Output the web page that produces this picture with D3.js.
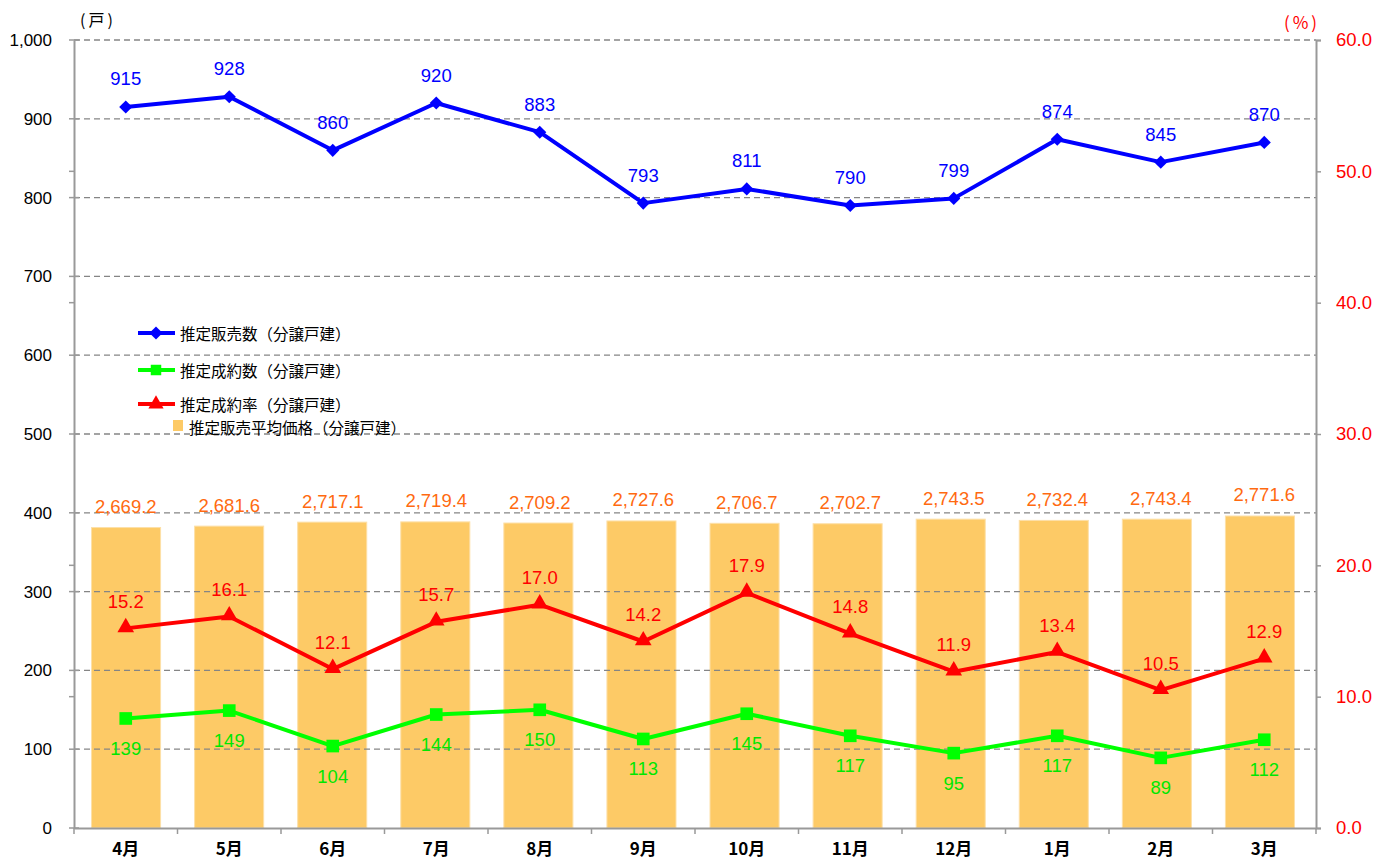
<!DOCTYPE html>
<html><head><meta charset="utf-8">
<script src="https://cdn.jsdelivr.net/npm/d3@7"></script>
<style>
html,body{margin:0;padding:0;background:#fff;}
svg{display:block;}
</style></head>
<body>
<svg id="chart" width="1373" height="864"></svg>
<script>
const months = ["4月","5月","6月","7月","8月","9月","10月","11月","12月","1月","2月","3月"];
const sales = [915,928,860,920,883,793,811,790,799,874,845,870];
const contracts = [139,149,104,144,150,113,145,117,95,117,89,112];
const rate = [15.2,16.1,12.1,15.7,17.0,14.2,17.9,14.8,11.9,13.4,10.5,12.9];
const price = [2669.2,2681.6,2717.1,2719.4,2709.2,2727.6,2706.7,2702.7,2743.5,2732.4,2743.4,2771.6];
const leftTicks = [0,100,200,300,400,500,600,700,800,900,1000];
const rightTicks = [0,10,20,30,40,50,60];
const legendLabels = ["推定販売数（分譲戸建）","推定成約数（分譲戸建）","推定成約率（分譲戸建）","推定販売平均価格（分譲戸建）"];

const svg = d3.select("#chart");
const L = 74, R = 1316, T = 40, B = 828;
const numFont = "'Liberation Sans', Arial, sans-serif";
const jpFont = "'Noto Sans CJK JP', sans-serif";

const x = d3.scaleBand().domain(months).range([L, R]).paddingInner(0.33).paddingOuter(0.165);
const xc = d => x(d) + x.bandwidth()/2;
const xBar = d3.scaleBand().domain(months).range([L, R - 4]).paddingInner(0.33).paddingOuter(0.17);
const yL = d3.scaleLinear().domain([0,1000]).range([B, T]);
const yR = d3.scaleLinear().domain([0,60]).range([B, T]);
const yP = d3.scaleLinear().domain([0,7000]).range([B, T]);

const fmt1 = d3.format(",.1f");

// bars
svg.append("g").selectAll("rect").data(price).join("rect")
  .attr("x", (d,i) => xBar(months[i]))
  .attr("y", d => yP(d))
  .attr("width", xBar.bandwidth())
  .attr("height", d => B - yP(d))
  .attr("fill", "#fdca66")
  .attr("stroke", "#fde0a8").attr("stroke-width", 1);

// gridlines
svg.append("g").selectAll("line").data(leftTicks.filter(d => d > 0)).join("line")
  .attr("x1", L).attr("x2", R)
  .attr("y1", d => yL(d)).attr("y2", d => yL(d))
  .attr("stroke", "#858585").attr("stroke-width", 1.3)
  .attr("stroke-dasharray", "6,4");

// left axis
const gL = svg.append("g").attr("transform", `translate(${L},0)`);
gL.call(d3.axisLeft(yL).tickValues(leftTicks).tickSize(0).tickFormat(d3.format(",")).tickPadding(22));
gL.select(".domain").attr("stroke", "#999").attr("stroke-width", 2);
gL.selectAll(".tick text").attr("font-family", numFont).attr("font-size", 17).attr("fill", "#000");
gL.selectAll(".tickmark").data(leftTicks).join("line").attr("class","tickmark")
  .attr("x1", -5).attr("x2", 5).attr("y1", d => yL(d)).attr("y2", d => yL(d))
  .attr("stroke", "#999").attr("stroke-width", 1.5);
gL.selectAll(".minor").data([10,20,40,50]).join("line").attr("class","minor")
  .attr("x1", -5).attr("x2", 0).attr("y1", d => yR(d)).attr("y2", d => yR(d))
  .attr("stroke", "#999").attr("stroke-width", 1.5);

// right axis
const gR = svg.append("g").attr("transform", `translate(${R},0)`);
gR.call(d3.axisRight(yR).tickValues(rightTicks).tickSize(5).tickFormat(d3.format(".1f")).tickPadding(15));
gR.select(".domain").attr("stroke", "#999").attr("stroke-width", 2);
gR.selectAll(".tick line").attr("stroke", "#999").attr("stroke-width", 1.5);
gR.selectAll(".tick text").attr("font-family", numFont).attr("font-size", 18.5).attr("fill", "#ff0000");

// bottom axis
const gB = svg.append("g").attr("transform", `translate(0,${B})`);
gB.call(d3.axisBottom(x).tickSize(0).tickPadding(15));
gB.select(".domain").attr("stroke", "#999").attr("stroke-width", 2);
gB.selectAll(".tick text").attr("font-family", jpFont).attr("font-size", 17).attr("font-weight", "bold").attr("fill", "#000");
const bounds = months.map(m => x(m) - x.step()*x.paddingInner()/2).concat([R]);
gB.selectAll(".btick").data(bounds).join("line").attr("class","btick")
  .attr("x1", d => d).attr("x2", d => d).attr("y1", 0).attr("y2", 6)
  .attr("stroke", "#999").attr("stroke-width", 1.5);

// unit labels
svg.append("text").attr("x", 98).attr("y", 26).attr("text-anchor","middle")
  .attr("font-family", jpFont).attr("font-size", 16).attr("letter-spacing", 3).attr("fill", "#000").text("(戸)");
svg.append("text").attr("x", 1302).attr("y", 29).attr("text-anchor","middle")
  .attr("font-family", jpFont).attr("font-size", 17).attr("letter-spacing", 3).attr("fill", "#ff0000").text("(%)");

// lines
function drawSeries(data, yScale, color) {
  const line = d3.line().x((d,i) => xc(months[i])).y(d => yScale(d));
  svg.append("path").datum(data).attr("d", line)
    .attr("fill", "none").attr("stroke", color).attr("stroke-width", 4).attr("stroke-linejoin","round");
}
drawSeries(rate, yR, "#ff0000");
drawSeries(contracts, yL, "#00ff00");
drawSeries(sales, yL, "#0000ff");

// markers
const diamond = d3.symbol().type(d3.symbolDiamond2).size(110);
const square = d3.symbol().type(d3.symbolSquare).size(160);
const tri = d3.symbol().type(d3.symbolTriangle).size(120);
svg.append("g").selectAll("path").data(rate).join("path")
  .attr("transform", (d,i) => `translate(${xc(months[i])},${yR(d)-1})`)
  .attr("d", tri).attr("fill", "#ff0000");
svg.append("g").selectAll("path").data(contracts).join("path")
  .attr("transform", (d,i) => `translate(${xc(months[i])},${yL(d)})`)
  .attr("d", square).attr("fill", "#00ff00");
svg.append("g").selectAll("path").data(sales).join("path")
  .attr("transform", (d,i) => `translate(${xc(months[i])},${yL(d)})`)
  .attr("d", diamond).attr("fill", "#0000ff");

// data labels
function labels(data, yScale, dy, color, f, fs) {
  svg.append("g").selectAll("text").data(data).join("text")
    .attr("x", (d,i) => xc(months[i]))
    .attr("y", d => yScale(d) + dy)
    .attr("text-anchor", "middle").attr("dominant-baseline", "central")
    .attr("font-family", numFont).attr("font-size", fs).attr("fill", color)
    .text(f);
}
labels(price, yP, -21, "#ff6a10", d => fmt1(d), 18.5);
labels(sales, yL, -28, "#0000ff", d => d, 18.5);
labels(contracts, yL, 30, "#00e600", d => d, 18.5);
labels(rate, yR, -27, "#ff0000", d => d.toFixed(1), 18.5);

// legend
const lg = svg.append("g");
const rows = [
  {y: 333, color: "#0000ff", sym: diamond},
  {y: 370, color: "#00ff00", sym: d3.symbol().type(d3.symbolSquare).size(110)},
  {y: 404, color: "#ff0000", sym: d3.symbol().type(d3.symbolTriangle).size(100)}
];
rows.forEach((r, i) => {
  lg.append("line").attr("x1", 138).attr("x2", 175).attr("y1", r.y).attr("y2", r.y)
    .attr("stroke", r.color).attr("stroke-width", 4);
  lg.append("path").attr("transform", `translate(156,${r.y})`).attr("d", r.sym).attr("fill", r.color);
  lg.append("text").attr("x", 180).attr("y", r.y).attr("dominant-baseline","central")
    .attr("font-family", jpFont).attr("font-size", 15.5).attr("fill", "#000").text(legendLabels[i]);
});
lg.append("rect").attr("x", 173).attr("y", 420).attr("width", 10).attr("height", 11).attr("fill", "#fdca66");
lg.append("text").attr("x", 189).attr("y", 427).attr("dominant-baseline","central")
  .attr("font-family", jpFont).attr("font-size", 15.5).attr("fill", "#000").text(legendLabels[3]);
</script>
</body></html>
